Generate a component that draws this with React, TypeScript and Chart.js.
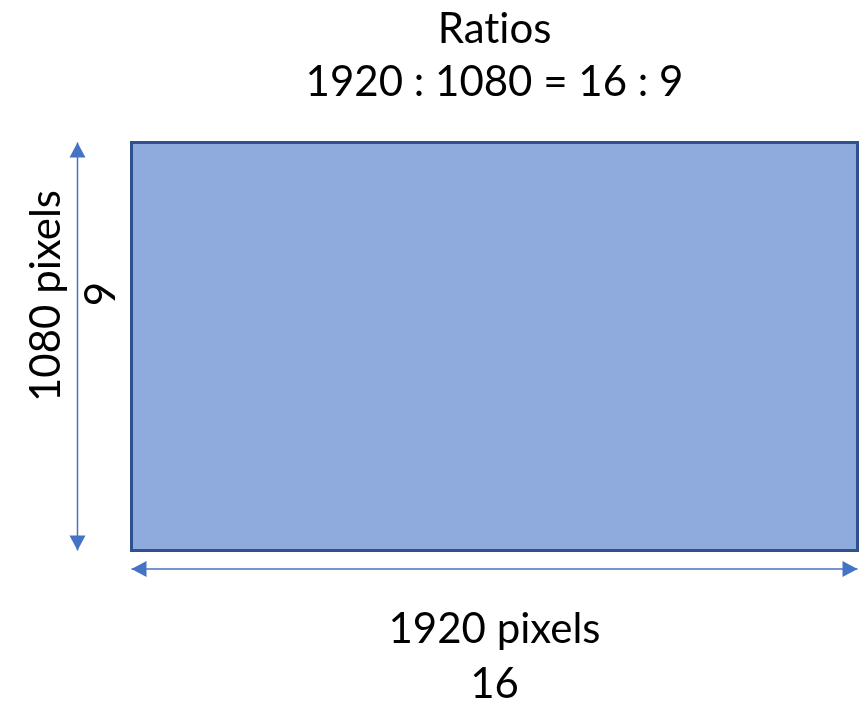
import React, { useEffect, useRef } from "react";
import { Chart, registerables } from "chart.js";

Chart.register(...registerables);

// ---- data ----
const titleLines = ["Ratios", "1920 : 1080 = 16 : 9"];
const widthLabels = ["1920 pixels", "16"];
const heightLabels = ["1080 pixels", "9"];
const ratioWidth = 16;
const ratioHeight = 9;
const frameX = [0, ratioWidth, ratioWidth, 0, 0];
const frameY = [0, 0, ratioHeight, ratioHeight, 0];
const widthArrowX = [0, ratioWidth];
const heightArrowY = [0, ratioHeight];

// ---- layout (data-space placement of the annotation pieces) ----
const LAYOUT = {
  xMin: -2.898,
  xMax: 16.187,
  yMin: -3.32,
  yMax: 12.143,
  heightArrowAt: -1.19,
  widthArrowAt: -0.408,
  textCenterX: 8,
  titleBaselines: [11.195, 10.026],
  widthBaselines: [-2.04, -3.254],
  heightBaselines: [-1.576, -0.364],
  heightCenters: [5.614, 5.658],
};

const STYLE = {
  fill: "#8FAADC",
  border: "#2F528F",
  arrow: "#4472C4",
  text: "#000000",
  font: "42px Lato",
};

const arrowHeads = {
  id: "arrowHeads",
  afterDatasetsDraw(chart: any) {
    const ctx = chart.ctx;
    chart.data.datasets.forEach((ds: any, i: number) => {
      if (!ds.isArrow) return;
      const pts = chart.getDatasetMeta(i).data;
      if (pts.length < 2) return;
      const ends = [
        [pts[0], pts[1]],
        [pts[pts.length - 1], pts[pts.length - 2]],
      ];
      ctx.save();
      ctx.fillStyle = ds.borderColor;
      for (const [tip, prev] of ends) {
        const dx = tip.x - prev.x;
        const dy = tip.y - prev.y;
        const len = Math.hypot(dx, dy) || 1;
        const ux = dx / len;
        const uy = dy / len;
        const L = 15;
        const W = 8;
        const bx = tip.x - ux * L;
        const by = tip.y - uy * L;
        ctx.beginPath();
        ctx.moveTo(tip.x, tip.y);
        ctx.lineTo(bx - uy * W, by + ux * W);
        ctx.lineTo(bx + uy * W, by - ux * W);
        ctx.closePath();
        ctx.fill();
      }
      ctx.restore();
    });
  },
};

const textLabels = {
  id: "textLabels",
  afterDraw(chart: any) {
    const ctx = chart.ctx;
    const xs = chart.scales.x;
    const ys = chart.scales.y;
    ctx.save();
    ctx.fillStyle = STYLE.text;
    ctx.font = STYLE.font;
    try {
      (ctx as any).textRendering = "optimizeSpeed";
    } catch (e) {}
    ctx.textAlign = "center";
    ctx.textBaseline = "alphabetic";
    const cx = xs.getPixelForValue(LAYOUT.textCenterX);
    titleLines.forEach((t, k) => {
      ctx.fillText(t, cx, ys.getPixelForValue(LAYOUT.titleBaselines[k]));
    });
    widthLabels.forEach((t, k) => {
      ctx.fillText(t, cx, ys.getPixelForValue(LAYOUT.widthBaselines[k]));
    });
    heightLabels.forEach((t, k) => {
      ctx.save();
      ctx.translate(
        xs.getPixelForValue(LAYOUT.heightBaselines[k]),
        ys.getPixelForValue(LAYOUT.heightCenters[k])
      );
      ctx.rotate(-Math.PI / 2);
      ctx.fillText(t, 0, 0);
      ctx.restore();
    });
    ctx.restore();
  },
};

export default function App() {
  const ref = useRef<HTMLCanvasElement | null>(null);

  useEffect(() => {
    if (!ref.current) return;
    const chart = new Chart(ref.current, {
      type: "line",
      data: {
        datasets: [
          {
            label: "frame",
            data: frameX.map((x, i) => ({ x, y: frameY[i] })),
            backgroundColor: STYLE.fill,
            borderColor: STYLE.border,
            borderWidth: 3,
            borderJoinStyle: "miter",
            borderCapStyle: "square",
            fill: "shape",
            pointRadius: 0,
            tension: 0,
          } as any,
          {
            label: "width",
            isArrow: true,
            data: widthArrowX.map((x) => ({ x, y: LAYOUT.widthArrowAt })),
            borderColor: STYLE.arrow,
            borderWidth: 1.5,
            fill: false,
            pointRadius: 0,
            tension: 0,
          } as any,
          {
            label: "height",
            isArrow: true,
            data: heightArrowY.map((y) => ({ x: LAYOUT.heightArrowAt, y })),
            borderColor: STYLE.arrow,
            borderWidth: 1.5,
            fill: false,
            pointRadius: 0,
            tension: 0,
          } as any,
        ],
      },
      options: {
        animation: false,
        responsive: false,
        devicePixelRatio: 1,
        events: [],
        layout: { padding: 0 },
        plugins: {
          legend: { display: false },
          tooltip: { enabled: false },
          title: { display: false },
        },
        scales: {
          x: {
            type: "linear",
            display: false,
            min: LAYOUT.xMin,
            max: LAYOUT.xMax,
            bounds: "data",
          },
          y: {
            type: "linear",
            display: false,
            min: LAYOUT.yMin,
            max: LAYOUT.yMax,
            bounds: "data",
          },
        },
      },
      plugins: [arrowHeads, textLabels],
    });
    return () => chart.destroy();
  }, []);

  return (
    <div style={{ position: "absolute", left: 0, top: 0, width: 866, height: 701, background: "#fff" }}>
      <canvas ref={ref} width={866} height={701} style={{ display: "block" }} />
    </div>
  );
}
